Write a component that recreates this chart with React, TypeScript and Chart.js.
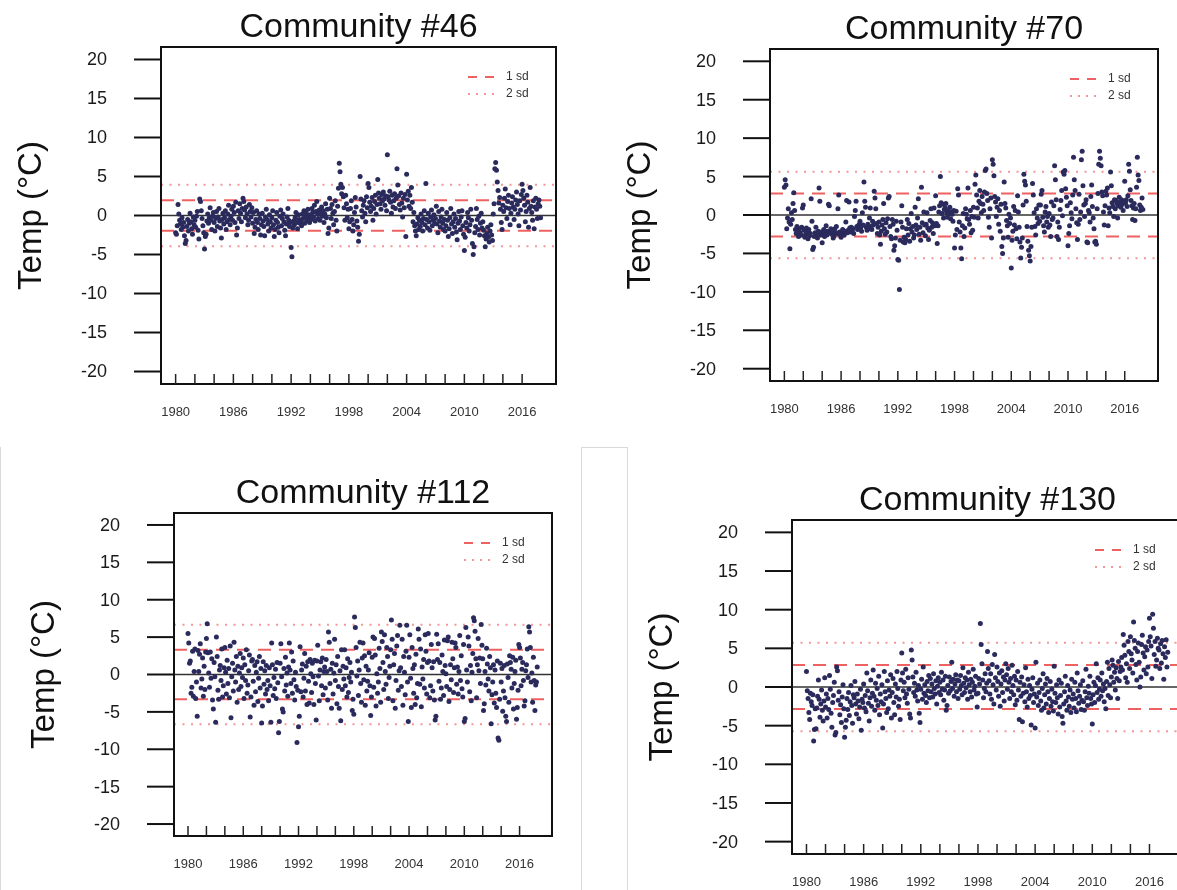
import React, { useEffect, useRef } from 'react';
import Chart from 'chart.js/auto';

// ---------- data ----------
const START_YEAR = 1980;
const X_TICKS = [1980, 1982, 1984, 1986, 1988, 1990, 1992, 1994, 1996, 1998, 2000, 2002, 2004, 2006, 2008, 2010, 2012, 2014, 2016];
const X_LABELS = [1980, 1986, 1992, 1998, 2004, 2010, 2016];
const Y_TICKS = [20, 15, 10, 5, 0, -5, -10, -15, -20];
const LEGEND_LABELS = ['1 sd', '2 sd'];
const Y_TITLE = 'Temp (°C)';

const TITLES = ['Community #46', 'Community #70', 'Community #112', 'Community #130'];
const SD1 = [1.97, 2.8, 3.32, 2.85];
const SD2 = [3.95, 5.62, 6.65, 5.72];

// monthly anomalies, Jan 1980 .. Dec 2017 (one row per year)
const comm46 = [
  -2.2, -2.4, -1.3, 1.4, 0.2, -0.6, -1.1, -1.8, -0.3, -1.5, -0.9, -2.6,
  -3.6, -3.2, -1.4, -0.5, -2.0, -1.0, 0.3, -0.8, -1.7, -2.4, -0.2, -1.2,
  -0.6, -1.5, -0.1, 0.5, -1.9, -3.0, 2.1, 1.8, 0.6, -0.4, -1.3, -2.2,
  -4.3, -2.7, -2.4, -0.7, 0.2, -1.0, -0.3, 1.0, -0.6, -1.8, -0.1, 0.4,
  -0.9, -2.0, -0.4, 0.5, -1.4, -0.2, 0.9, -0.7, -1.6, -2.9, -0.5, 0.3,
  -1.1, -0.3, 0.6, -1.8, -0.8, 0.2, 1.3, -0.5, -1.2, -0.1, 0.8, -0.6,
  1.2, 0.4, -0.9, 1.7, -2.5, -1.6, 0.6, -0.4, 1.5, 0.3, -0.8, 0.9,
  2.2, 1.8, 0.7, -0.3, 1.1, 0.2, -1.2, -0.6, 1.4, 0.5, -0.2, 1.0,
  -1.0, 0.4, -2.3, -1.5, -0.5, 0.6, -0.9, -1.8, 0.2, -0.4, -2.5, -1.2,
  0.3, -0.7, -1.4, -2.6, -0.2, 0.8, -0.5, -1.1, -2.0, 0.1, -0.8, -1.6,
  -0.3, 0.6, -1.2, -2.7, -1.8, -0.6, 0.4, -0.9, -1.5, -2.2, -0.1, 0.7,
  -1.3, -0.4, 0.2, -0.8, -1.9, -2.6, -1.1, -0.2, 0.9, -0.6, -1.4, -0.9,
  -4.1, -5.3, -1.6, -0.7, -1.2, -0.3, 0.4, -0.9, -1.7, 0.1, -0.5, -1.0,
  -0.8, -1.3, 0.2, -0.4, 0.6, -1.0, -0.2, 0.3, -0.6, 0.8, -0.3, -0.9,
  0.1, -0.5, 0.9, 0.4, -0.2, 1.3, -0.7, 0.5, 1.8, 0.2, -0.4, 0.7,
  -0.6, 0.3, 1.1, -0.1, 0.6, -0.9, 0.2, 1.5, -0.3, 0.8, -2.3, -1.6,
  2.2, 0.9, -0.4, 1.4, 0.3, -1.2, 0.5, 1.9, -0.6, -2.0, 1.2, 3.5,
  6.7, 5.6, 4.0, 2.8, 3.6, 2.4, 1.0, -0.6, 2.6, 1.5, -0.3, 0.8,
  -1.7, -0.8, 0.9, 1.9, -0.5, -2.0, -1.2, 0.4, 2.3, 1.1, -0.7, -1.5,
  -3.3, -2.4, 5.0, 2.1, 0.6, -0.2, 1.3, 1.9, 0.3, -0.8, 2.4, 1.0,
  4.1, 3.6, 1.7, 0.5, 1.2, 2.3, -0.6, 0.9, 1.8, 2.6, 0.2, 1.4,
  4.6, 2.9, 2.2, 1.5, 0.8, 2.7, 1.9, 3.0, 2.1, 1.3, 2.5, 0.6,
  7.8, 2.4, 2.0, 3.1, 1.7, 0.3, 2.6, 1.1, 1.9, 2.8, 0.9, 2.2,
  6.0, 3.9, 2.5, 1.4, 0.7, 2.9, 1.6, -0.2, 2.2, 1.0, 2.7, -2.7,
  5.3, 2.0, 3.1, 1.2, 2.6, 0.9, 3.6, 1.7, -0.8, 0.4, -1.3, -2.0,
  -2.6, -1.1, -0.3, -1.8, -0.6, -1.4, 0.2, -0.9, -2.0, -0.4, 0.6, -1.2,
  4.1, -0.5, -1.6, 0.3, -0.8, -1.9, -0.2, 0.7, -1.3, -0.6, 0.1, -1.0,
  -0.4, 1.2, -1.1, -2.2, 0.5, -0.7, -1.5, -0.2, 0.8, -1.0, -1.8, -0.5,
  -2.0, -1.3, 0.4, -0.6, -2.7, -1.7, -0.3, 0.9, -1.1, -2.3, -0.8, 0.2,
  -1.5, -0.4, -2.1, -3.1, -1.0, 0.5, -0.7, -1.8, -0.2, 0.6, -1.3, -2.4,
  -4.5, -2.8, -0.9, -1.6, 0.4, -0.3, -2.0, -1.2, 0.8, -0.6, -3.6, -5.0,
  -4.0, -2.2, -1.4, 0.9, -0.5, -1.8, -0.1, -2.5, -1.0, 0.3, -1.6, -0.8,
  -1.9, -2.6, -4.0, -3.0, -2.3, -1.5, -2.8, -3.4, -2.0, -1.2, -2.5, -3.2,
  0.2, 1.5, 6.0, 6.8, 5.8, 4.3, 3.2, 1.6, 2.3, 0.8, -0.9, -1.8,
  1.3, 0.5, 2.2, 3.4, 1.0, -0.4, 1.8, 2.6, 0.9, -1.2, 0.3, 1.6,
  2.4, 1.1, -0.5, 0.8, 2.0, 3.0, 1.4, 0.2, -1.3, 1.9, 0.7, 2.7,
  4.0, 3.2, 2.2, 1.3, -0.8, 0.5, 2.6, 1.7, -1.5, 0.9, 3.6, 1.2,
  0.4, -0.6, 1.9, -1.7, 1.1, 2.2, 0.8, -0.4, 1.5, 2.0, 1.2, -0.3,
];

const comm70 = [
  3.6, 4.6, 3.9, -1.8, -0.4, 0.8, -0.9, -4.4, -1.2, 0.3, -0.6, 1.5,
  2.9, 0.6, -1.9, -2.4, -1.5, -2.2, -2.8, -1.8, -2.3, -2.6, -1.6, 0.9,
  1.3, -2.0, -2.9, -2.5, -1.7, -2.2, -3.1, -1.9, -2.7, -2.4, 2.1, -0.8,
  -4.5, -4.2, -2.8, -2.3, -1.6, -2.5, -3.0, -2.1, 3.5, 1.8, -2.6, -2.2,
  -3.6, -2.4, -1.9, -2.8, -2.2, -1.4, -2.6, -2.1, 1.4, 1.2, -2.3, -1.8,
  -2.5, -2.1, -3.0, -2.7, -1.8, -2.3, -1.5, -2.4, 0.8, 2.6, -2.2, -2.6,
  -2.9, -2.4, -1.9, -2.2, -2.6, -2.1, -0.9, 1.9, -2.3, -2.0, 1.7, -1.7,
  -2.2, -1.6, -2.0, -1.8, -2.4, -0.2, 0.6, 1.8, -1.5, -1.9, -1.4, -1.2,
  -0.8, -1.6, -2.1, 0.3, -1.3, 4.3, 1.8, 1.0, -1.6, -2.0, -1.2, -1.8,
  -0.4, 0.9, -1.5, -1.9, -0.8, -1.3, 3.1, 2.2, 0.8, -1.1, -2.4, -1.6,
  -0.9, -2.6, -3.8, -2.1, -1.3, -0.6, 1.5, -1.8, -2.5, -1.0, -2.2, -0.5,
  2.2, 2.4, -1.5, -2.8, -3.1, -0.6, -1.2, -4.6, -4.0, -3.0, -0.8, -2.0,
  -5.8, -5.9, -9.7, -3.3, -0.9, 1.2, -1.6, -3.5, -2.9, -3.6, -3.2, -1.8,
  -0.6, -2.6, -1.1, -3.4, -1.8, 0.2, -2.2, -1.5, -3.0, -2.6, 1.0, -1.3,
  -1.9, -0.4, 2.1, -2.5, -1.6, -3.3, 3.6, -1.0, -2.3, 0.4, -1.3, -2.7,
  -1.2, 0.3, -1.7, -3.2, -2.0, -0.7, 0.8, -1.6, -1.0, -2.4, 0.9, -1.4,
  2.5, -1.1, -3.7, -1.4, 0.4, 1.2, 5.0, 1.6, 0.2, 1.4, -0.4, 0.7,
  0.9, 1.5, 0.3, -0.3, 0.6, 0.2, 1.0, -0.5, 0.4, 0.1, -0.8, 0.6,
  -4.3, -2.6, 0.5, -1.9, 3.4, 2.6, -0.9, -2.2, -4.3, -5.7, -1.4, 0.2,
  -2.8, -1.7, 0.8, 0.1, -0.5, 3.5, -0.6, -1.2, 0.6, -2.3, -0.2, -2.0,
  1.0, -0.3, 4.0, 5.2, 2.6, 0.9, -0.4, 1.8, 3.2, 1.5, 0.3, 2.4,
  1.4, 0.6, 3.0, 5.8, 6.0, 2.8, 1.9, -0.3, -1.6, 0.8, 2.2, -3.0,
  7.2, 6.6, 5.1, 2.4, 1.7, -0.2, 1.0, 2.1, -1.2, 0.6, -2.1, 1.4,
  -4.1, -5.0, -3.0, 4.3, 1.5, 0.9, -0.7, -1.4, -2.9, 0.1, -1.1, -0.4,
  -6.9, -3.3, -2.1, 1.1, -1.3, 0.6, -1.8, -3.1, 2.5, 0.4, -1.6, -3.5,
  -5.6, -4.2, -3.0, 1.3, 5.3, 4.4, 3.9, 1.8, -1.5, -3.4, -4.6, -5.3,
  -6.0, -4.1, -1.6, 4.1, 2.6, 0.3, -1.5, -2.6, 0.8, -0.4, -1.1, 1.3,
  -0.8, 1.3, 2.7, 3.2, -0.3, -1.4, -2.2, 0.4, 1.1, -0.9, -0.2, -1.6,
  0.2, -1.3, -2.8, 1.7, -0.6, -0.4, 1.2, 6.4, 4.6, 2.0, -2.8, -0.9,
  -3.2, -1.6, 0.7, 1.9, 3.2, -0.1, 5.6, 5.3, 5.8, 3.4, 2.3, 1.2,
  -4.0, -2.4, -1.4, 1.6, 0.3, -0.5, 2.6, 7.5, 4.6, 3.2, 0.8, -1.0,
  -3.2, -1.2, 2.7, -0.6, 0.4, 7.2, 8.3, 3.8, 1.3, -0.2, 1.5, 2.0,
  -3.5, -3.6, 0.6, 0.3, -0.9, 2.4, 3.9, 1.1, -0.4, -1.8, -3.5, -3.4,
  -3.8, 0.8, 2.8, 6.6, 8.3, 7.4, 6.4, 3.0, 2.5, 0.4, -1.3, 1.2,
  3.1, 2.6, 3.5, -1.4, 0.9, 0.3, 5.6, 3.8, 1.6, 1.1, -0.2, 2.0,
  0.8, 1.9, 1.5, -0.4, 1.2, 2.3, 1.7, 1.0, 2.0, 1.4, 0.6, 1.8,
  4.4, 1.6, 2.0, 1.1, 2.5, 6.6, 5.7, 3.3, 1.9, 1.2, -0.6, 0.9,
  1.5, -0.7, 0.8, 3.6, 7.5, 5.2, 4.5, 1.3, 0.6, 1.0, 2.2, 0.7,
];

const comm112 = [
  5.5, 4.2, 1.5, 1.8, -2.5, -1.7, 3.1, -2.9, 0.4, 3.4, -3.2, -1.0,
  -5.6, 3.2, 0.4, 2.7, 4.1, -1.8, -0.6, 2.2, -2.9, 1.1, -2.0, 3.0,
  4.8, 6.8, 2.9, 0.2, -1.7, 3.0, -0.5, 2.1, -3.4, -4.6, 1.6, -0.3,
  -6.4, 5.0, 2.4, -2.1, -3.3, 0.6, 1.2, -0.8, 3.4, -3.0, -1.5, 0.9,
  3.6, 0.3, -2.6, 1.9, -1.2, 0.8, -3.1, 3.8, -5.8, -0.3, 1.5, -2.2,
  4.3, 0.6, -1.0, 2.4, -3.7, 1.1, -2.0, 0.2, 2.8, -1.6, 0.9, -0.4,
  2.2, -3.2, 1.3, -0.8, 3.3, -2.5, -1.4, 0.5, 2.6, -5.7, -3.0, 1.8,
  2.0, -0.9, -4.1, 1.2, -2.3, 0.3, 1.7, -3.6, -0.5, 2.4, -1.8, 0.8,
  -6.5, -4.2, 1.7, -1.3, 0.5, -2.6, 1.2, -2.0, -0.8, -3.5, 0.9, -1.5,
  -6.4, 4.2, 1.3, -2.8, -0.4, -1.9, 0.7, -3.2, 1.6, -1.1, -7.8, -6.3,
  1.5, 4.1, -0.3, -4.6, -5.0, 0.8, -2.2, 2.3, -1.4, 0.2, -2.9, 1.0,
  4.2, 0.6, -1.2, 3.0, -2.5, 1.8, -0.7, -3.4, 0.3, -1.6, -9.1, -2.1,
  -7.0, -5.6, 3.7, -2.3, 0.6, 1.4, -3.0, -0.5, 2.8, -2.2, 1.1, -4.0,
  1.7, -0.9, -3.8, 2.0, 0.1, -2.4, 1.5, -0.3, -4.0, 1.9, -1.2, -6.1,
  1.8, 3.9, -0.2, -3.5, 0.6, 1.7, -1.5, 2.2, -2.7, 0.4, 1.0, -1.8,
  2.0, 0.4, -3.4, 5.7, 4.3, -1.2, 0.7, -4.5, 1.5, -2.6, 0.2, 4.7,
  -0.8, 1.3, -3.9, 2.4, -1.6, -4.5, 0.5, -6.2, 3.3, -2.0, 1.1, -0.6,
  3.3, -1.5, 0.9, -3.0, 2.1, -2.4, -0.4, 1.6, -1.0, 0.3, -4.8, -3.3,
  -5.3, 7.7, 6.3, 3.6, -0.2, 1.8, -2.8, 0.6, 4.3, -1.2, -3.7, 2.2,
  4.2, -0.7, 2.5, -4.1, 1.1, -2.2, -0.9, 0.6, 2.9, -1.5, -5.5, -3.0,
  2.3, 5.0, -1.7, 4.8, 2.6, -4.2, 0.1, -2.5, -1.0, 3.5, 0.8, -3.7,
  5.7, 4.4, 1.6, -2.0, 5.3, 0.4, -1.3, 3.6, 2.4, -3.2, -0.4, 1.1,
  3.3, 7.3, 4.7, -3.5, 1.3, 2.8, -4.5, -0.8, 3.8, 5.2, -2.1, 0.5,
  6.6, 0.9, -1.6, 4.7, -4.1, 2.4, 0.3, -2.7, 3.1, 6.6, -1.0, -6.3,
  2.3, 5.3, -0.5, -4.4, 3.6, 0.8, -2.5, 1.3, -4.0, 2.7, -3.1, -1.2,
  6.1, 4.7, -1.3, 3.4, -4.3, 1.0, -0.6, 2.0, -1.8, 5.3, 3.1, -2.6,
  1.6, 5.5, 1.8, -3.1, -1.5, 4.0, 0.9, -2.2, 1.7, -3.4, -6.1, -5.6,
  5.4, 2.0, 4.1, -0.9, 1.6, -3.3, -1.8, 2.6, 0.4, -2.8, 4.6, 1.2,
  0.1, -1.6, 4.5, 5.0, -3.6, -2.0, 1.3, -0.7, 4.3, 2.1, -2.4, 0.9,
  4.2, 3.6, -1.3, 1.0, -2.6, 0.4, 5.2, -0.8, 2.5, -1.9, -3.0, 4.0,
  -6.3, -5.9, 6.3, 0.6, -1.0, 5.0, 3.8, -2.3, 1.2, -3.5, 0.3, 2.8,
  7.6, 7.2, 5.8, 2.1, -3.1, 1.3, 4.8, 0.5, 2.2, -1.2, 6.7, 3.9,
  2.1, -4.8, -3.9, 0.4, -1.4, 3.5, 1.4, -0.6, -2.2, 2.4, 0.9, -6.6,
  -2.7, -1.0, 1.3, -3.8, 0.6, -2.5, -4.4, 1.8, -8.5, -8.8, -3.3, 1.5,
  -1.0, 0.8, -4.9, -2.2, 1.2, -3.1, -5.6, -6.3, 1.4, -0.4, -3.7, 2.5,
  1.6, 0.7, -1.8, 2.3, -4.6, -1.2, 0.4, 1.9, -6.0, -4.4, -2.1, 4.0,
  3.6, 2.2, -1.5, 0.7, 1.6, -0.8, -4.2, -3.5, 0.5, 1.3, 3.4, -0.4,
  6.4, 5.7, 3.6, -1.0, 0.2, -3.7, 2.3, -0.8, -4.8, -1.4, -1.0, 1.0,
];

const comm130 = [
  2.0, -0.5, -1.5, -3.3, -4.2, -0.8, -1.9, -2.4, -1.0, -7.0, -5.5, -2.8,
  -5.4, -2.7, -1.2, 0.9, -1.6, -3.9, -2.2, -0.4, -3.0, -4.4, -1.8, 1.2,
  -2.6, -0.9, -4.0, -1.5, -2.9, 1.5, -0.3, -3.4, -5.2, -2.0, -1.1, 0.6,
  -6.2, -5.9, 2.6, 2.1, -1.7, -0.6, -3.6, -2.3, -4.6, -1.3, 0.3, -2.8,
  -6.5, -5.2, -4.3, -1.5, -2.9, -0.7, -3.7, -1.9, 0.2, -2.4, -4.7, -1.0,
  -1.4, 0.7, -2.2, -3.5, -0.9, -1.8, -4.1, -2.6, -0.3, -5.6, -1.6, -2.0,
  0.4, -2.7, -1.1, -3.2, 1.8, -0.5, -2.1, -4.4, -1.4, 0.9, -2.5, -0.8,
  2.2, -1.2, -3.0, 0.5, -1.7, -0.2, -2.4, 1.4, -3.6, -0.9, -1.9, 0.3,
  -5.3, -2.2, 2.0, -0.6, -1.5, -3.3, 0.8, -2.8, -0.4, -1.2, 1.6, -4.0,
  -0.7, 1.1, -2.0, -3.6, 0.4, -1.3, 2.0, -0.2, -2.5, -1.6, -4.2, 0.9,
  4.4, 1.8, -0.5, 0.6, -1.4, 2.3, -0.9, -2.1, 1.2, -0.3, -3.5, -4.0,
  4.8, 3.5, 1.3, -0.7, 0.5, -1.2, 1.9, -0.4, -1.8, 0.2, -3.4, -4.6,
  -0.3, 1.0, -1.6, 2.6, -0.8, 0.3, -1.1, -2.0, 0.7, -0.5, 1.5, -1.4,
  1.1, -0.6, 0.4, -1.3, 1.7, -0.2, -0.9, 0.8, -2.2, 0.1, 1.2, -0.7,
  0.6, -1.0, 1.9, -0.3, 0.9, -1.7, -0.4, 1.4, -3.0, -2.4, 0.2, -0.8,
  1.3, -0.5, 0.7, 3.2, -0.2, 1.0, -1.2, 0.4, 1.6, -0.6, 0.9, -1.5,
  0.8, -0.3, 1.5, 0.2, -1.0, 2.5, 0.5, -0.7, 1.2, -0.1, 0.9, -1.6,
  1.9, 0.3, -0.6, 1.0, -1.3, 0.6, 2.3, -0.4, 0.1, 1.4, -0.9, -2.6,
  -0.8, 1.1, 0.4, 8.2, 5.5, 3.0, 0.9, -1.4, -0.2, 1.7, -0.6, 0.5,
  4.6, 2.4, 0.8, -0.9, 1.7, -1.6, 2.9, 0.3, -2.2, 4.2, 1.2, -0.4,
  2.6, 0.7, -1.2, 1.8, -2.5, 0.4, 2.1, -0.7, 1.3, -1.8, 0.9, 3.0,
  1.6, -0.3, 2.4, 0.6, -1.5, 1.1, -0.6, 2.8, 0.2, -1.0, 1.4, -2.3,
  0.9, -1.7, 2.0, -0.4, -4.2, 0.6, -1.2, 1.3, -4.5, -0.8, 0.3, -1.9,
  2.5, -0.6, -2.6, 1.0, -1.5, 0.2, -1.1, -4.9, -0.3, 1.2, -2.0, -0.9,
  -5.3, 3.2, -1.3, 0.5, -2.4, -0.7, 0.9, -1.8, -3.0, -0.2, 1.7, -2.7,
  -1.0, 0.4, -2.2, 1.1, -0.6, -3.3, -1.5, 0.7, -2.5, -0.3, -1.9, -3.1,
  2.7, -0.8, -2.0, 0.3, -1.4, -3.5, 0.9, -2.6, -1.1, 0.5, -3.8, -4.7,
  -2.2, -0.6, 1.4, -1.8, -3.0, 0.2, -1.3, -2.5, -0.4, -3.3, 1.0, -1.6,
  -0.9, -2.7, 0.6, -1.5, -3.2, 1.8, -0.5, -2.1, -1.2, 0.3, -2.9, -1.7,
  0.8, -1.9, -3.0, -0.6, 2.3, -1.4, -2.4, 0.1, -0.8, 1.4, -1.5, -2.2,
  -4.8, -1.0, 0.6, -2.0, 0.2, 3.0, -0.7, 1.2, -1.6, -0.3, 0.9, -1.2,
  1.8, -0.5, 0.4, -1.9, -0.2, -2.8, 0.7, 3.2, -1.1, 2.4, 0.3, -1.4,
  1.3, 3.5, 2.8, 0.6, 1.9, -0.4, 2.5, 1.1, -1.5, 3.3, 0.8, 2.0,
  2.6, 3.8, 2.2, 6.8, 5.4, 4.1, 1.2, 3.0, 0.6, 5.9, 4.6, 2.4,
  6.5, 4.3, 3.5, 1.8, 8.4, 6.0, 5.0, 2.9, 0.9, 4.6, 5.7, 3.2,
  0.0, 1.3, 5.5, 6.7, 4.4, 2.2, 3.9, 5.2, 1.7, 4.8, 2.6, 5.9,
  8.9, 6.5, 5.3, 1.1, 9.4, 7.6, 4.2, 5.9, 2.7, 3.5, 6.3, 5.0,
  4.8, 2.4, 5.6, 3.1, 6.0, 4.3, 1.0, 5.2, 3.8, 6.1, 2.6, 4.5,
];

const SERIES = [comm46, comm70, comm112, comm130];

// ---------- layout / style ----------
const X_MIN = 1978.48;
const X_MAX = 2019.52;
const Y_MIN = -21.6;
const Y_MAX = 21.6;

// canvas placement on the page and plot-box padding inside each canvas
const PANELS = [
  { left: 0, top: 0, w: 590, h: 440, pad: { left: 161, top: 47, right: 34, bottom: 56 } },
  { left: 590, top: 0, w: 587, h: 440, pad: { left: 180, top: 49, right: 19, bottom: 59 } },
  { left: 0, top: 445, w: 580, h: 445, pad: { left: 174, top: 68, right: 28, bottom: 54 } },
  { left: 628, top: 445, w: 600, h: 445, pad: { left: 164, top: 75, right: 45, bottom: 36 } },
];

const FONT = '"Liberation Sans", Arial, Helvetica, sans-serif';
const POINT_COLOR = '#2a2a5c';
const SD1_COLOR = 'rgba(236, 80, 80, 0.9)';
const SD2_COLOR = 'rgba(242, 140, 140, 0.9)';
const TEXT_COLOR = '#1a1a1a';

function hline(y: number, color: string, width: number, dash: number[]) {
  return {
    type: 'line' as const,
    data: [{ x: X_MIN, y }, { x: X_MAX, y }],
    borderColor: color,
    borderWidth: width,
    borderDash: dash,
    pointRadius: 0,
    showLine: true,
    order: 2,
  };
}

function Panel({ idx }: { idx: number }) {
  const ref = useRef<HTMLCanvasElement | null>(null);
  const p = PANELS[idx];

  useEffect(() => {
    const canvas = ref.current;
    if (!canvas) return;
    const values = SERIES[idx];
    const sd = SD1[idx];
    const sd2 = SD2[idx];
    const title = TITLES[idx];

    const decor = {
      id: 'decor' + idx,
      afterDraw(chart: any) {
        const { ctx, chartArea: a, scales } = chart;
        const xs = scales.x;
        const ys = scales.y;
        ctx.save();
        ctx.setLineDash([]);
        // plot box
        ctx.strokeStyle = '#111';
        ctx.lineWidth = 2;
        ctx.strokeRect(a.left, a.top, a.right - a.left, a.bottom - a.top);

        // y ticks (outside) + labels
        ctx.font = `18px ${FONT}`;
        ctx.fillStyle = TEXT_COLOR;
        ctx.textAlign = 'right';
        ctx.textBaseline = 'middle';
        for (const v of Y_TICKS) {
          const py = ys.getPixelForValue(v);
          ctx.beginPath();
          ctx.moveTo(a.left - 27, py);
          ctx.lineTo(a.left, py);
          ctx.stroke();
          ctx.fillText(String(v), a.left - 54, py + 1);
        }

        // x ticks (inside) + labels
        ctx.lineWidth = 1.5;
        ctx.strokeStyle = '#222';
        for (const yr of X_TICKS) {
          const px = xs.getPixelForValue(yr);
          ctx.beginPath();
          ctx.moveTo(px, a.bottom);
          ctx.lineTo(px, a.bottom - 10);
          ctx.stroke();
        }
        ctx.font = `13px ${FONT}`;
        ctx.fillStyle = '#333';
        ctx.textAlign = 'center';
        for (const yr of X_LABELS) {
          ctx.fillText(String(yr), xs.getPixelForValue(yr), a.bottom + 28);
        }

        // title
        ctx.fillStyle = '#111';
        ctx.font = `34px ${FONT}`;
        ctx.textAlign = 'center';
        ctx.textBaseline = 'alphabetic';
        ctx.fillText(title, (a.left + a.right) / 2, a.top - 10);

        // y axis title
        ctx.save();
        ctx.translate(a.left - 129, (a.top + a.bottom) / 2);
        ctx.rotate(-Math.PI / 2);
        ctx.font = `33px ${FONT}`;
        ctx.textBaseline = 'middle';
        ctx.textAlign = 'center';
        ctx.fillText(Y_TITLE, 0, 0);
        ctx.restore();

        // legend (no box)
        const lx0 = a.right - 88;
        const lx1 = a.right - 62;
        const ly1 = a.top + 30;
        const ly2 = a.top + 47;
        ctx.lineWidth = 2;
        ctx.strokeStyle = SD1_COLOR;
        ctx.setLineDash([9, 8]);
        ctx.beginPath();
        ctx.moveTo(lx0, ly1);
        ctx.lineTo(lx1, ly1);
        ctx.stroke();
        ctx.strokeStyle = SD2_COLOR;
        ctx.setLineDash([2, 6]);
        ctx.beginPath();
        ctx.moveTo(lx0, ly2);
        ctx.lineTo(lx1, ly2);
        ctx.stroke();
        ctx.setLineDash([]);
        ctx.font = `12px ${FONT}`;
        ctx.fillStyle = '#333';
        ctx.textAlign = 'left';
        ctx.textBaseline = 'middle';
        ctx.fillText(LEGEND_LABELS[0], a.right - 50, ly1);
        ctx.fillText(LEGEND_LABELS[1], a.right - 50, ly2);
        ctx.restore();
      },
    };

    const chart = new Chart(canvas, {
      type: 'scatter',
      data: {
        datasets: [
          {
            data: values.map((v, i) => ({ x: START_YEAR + i / 12, y: v })),
            backgroundColor: POINT_COLOR,
            borderWidth: 0,
            pointRadius: 2.5,
            order: 1,
          } as any,
          hline(0, '#333', 1.3, []),
          hline(sd, SD1_COLOR, 2, [13, 8]),
          hline(-sd, SD1_COLOR, 2, [13, 8]),
          hline(sd2, SD2_COLOR, 2, [2, 6.5]),
          hline(-sd2, SD2_COLOR, 2, [2, 6.5]),
        ],
      },
      options: {
        animation: false,
        responsive: false,
        maintainAspectRatio: false,
        events: [],
        layout: { padding: p.pad },
        plugins: { legend: { display: false }, tooltip: { enabled: false }, title: { display: false } },
        scales: {
          x: { type: 'linear', min: X_MIN, max: X_MAX, display: false },
          y: { type: 'linear', min: Y_MIN, max: Y_MAX, display: false },
        },
      },
      plugins: [decor],
    });
    return () => chart.destroy();
  }, [idx]);

  return (
    <canvas
      ref={ref}
      width={p.w}
      height={p.h}
      style={{ position: 'absolute', left: p.left, top: p.top, width: p.w, height: p.h }}
    />
  );
}

export default function App() {
  return (
    <div
      style={{
        position: 'absolute',
        left: 0,
        top: 0,
        width: 1177,
        height: 890,
        overflow: 'hidden',
        background: '#fff',
      }}
    >
      <div style={{ position: 'absolute', left: 0, top: 447, width: 1, height: 443, background: '#d9d9d9' }} />
      <div
        style={{
          position: 'absolute',
          left: 581,
          top: 447,
          width: 45,
          height: 450,
          borderLeft: '1px solid #d9d9d9',
          borderRight: '1px solid #d9d9d9',
          borderTop: '1px solid #d9d9d9',
        }}
      />
      {PANELS.map((_, i) => (
        <Panel key={i} idx={i} />
      ))}
    </div>
  );
}
